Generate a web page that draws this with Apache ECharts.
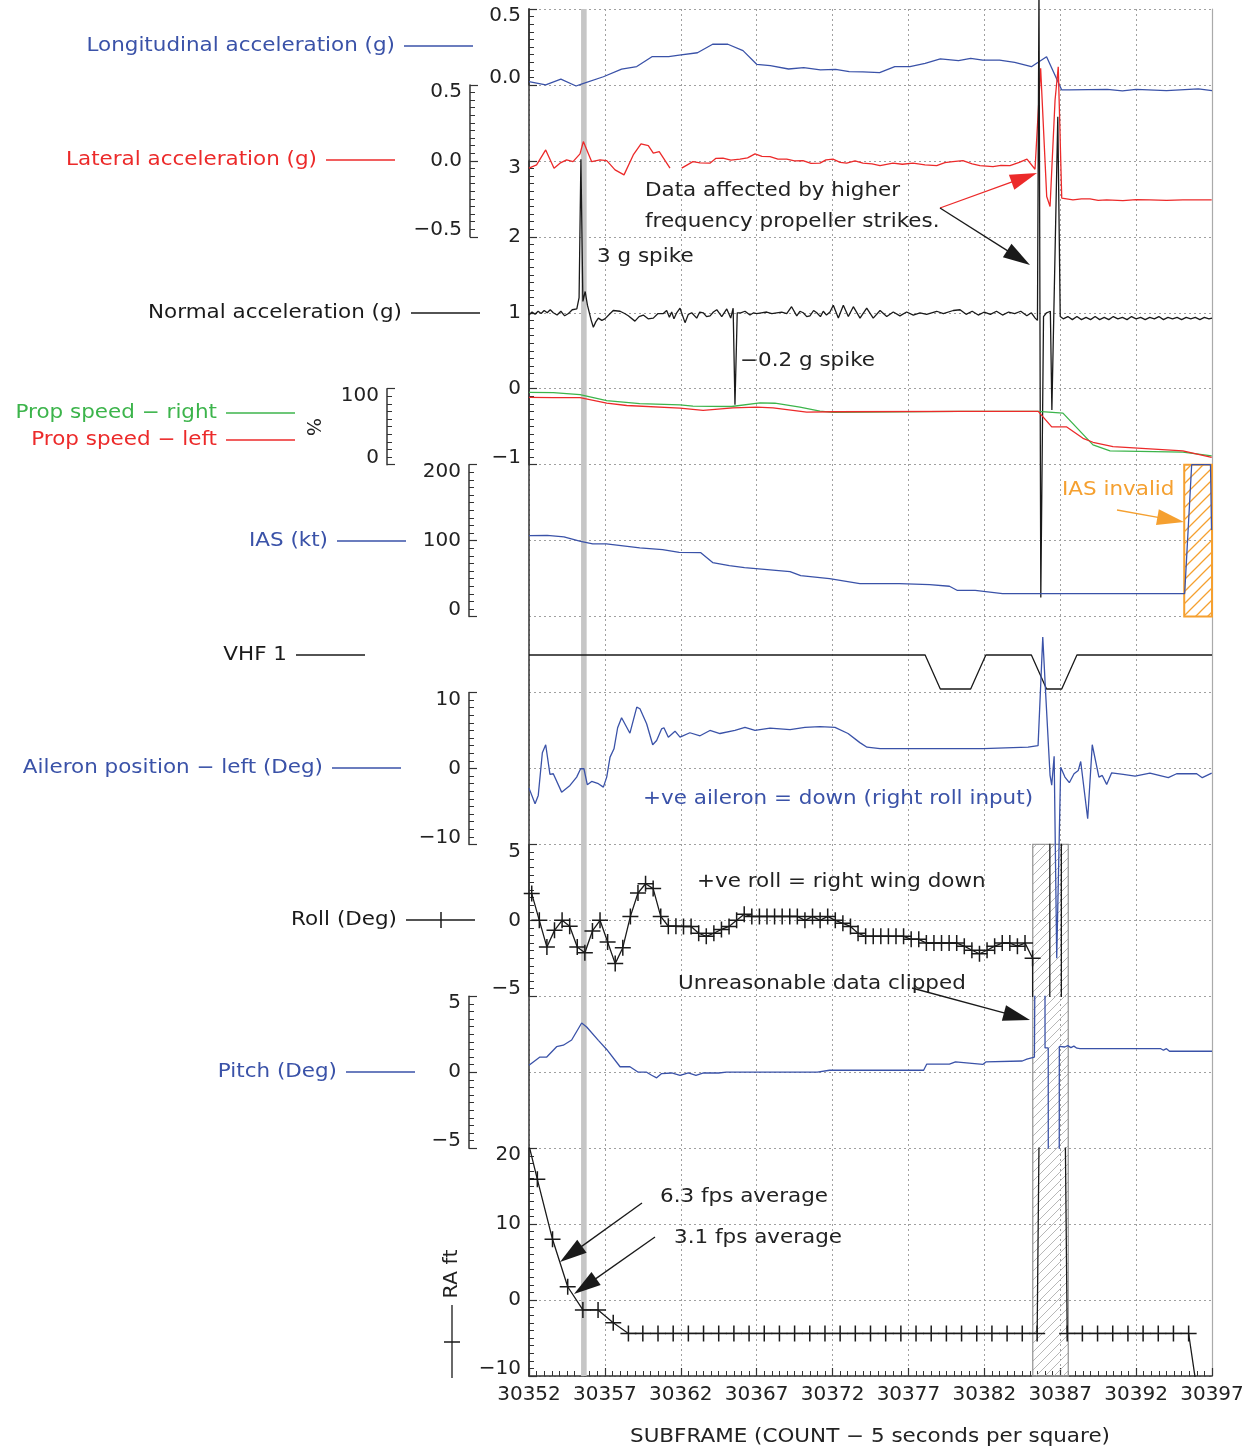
<!DOCTYPE html>
<html><head><meta charset="utf-8">
<script src="https://cdn.jsdelivr.net/npm/echarts@6/dist/echarts.min.js"></script>
<style>html,body{margin:0;padding:0;background:#fff}#c{width:1253px;height:1449px}</style>
</head><body><div id="c"></div>
<script>
// ---------------- DATA ----------------
const xTickLabels = [30352,30357,30362,30367,30372,30377,30382,30387,30392,30397];
const longTicks = [0, 0.5];
const latTicks = [-0.5, 0, 0.5];
const normTicks = [-1, 0, 1, 2, 3];
const propTicks = [0, 100];
const iasTicks = [0, 100, 200];
const ailTicks = [-10, 0, 10];
const rollTicks = [-5, 0, 5];
const pitchTicks = [-5, 0, 5];
const raTicks = [-10, 0, 10, 20];

const longAcc = [[30352.0,0.022],[30353.1,0.0],[30354.1,0.038],[30355.1,-0.007],[30355.5,0.007],[30356.9,0.054],[30358.1,0.104],[30359.1,0.121],[30360.1,0.186],[30361.2,0.186],[30361.9,0.197],[30363.1,0.212],[30364.1,0.268],[30365.1,0.268],[30366.1,0.226],[30367.0,0.136],[30367.9,0.127],[30369.1,0.105],[30370.1,0.114],[30371.2,0.099],[30372.2,0.103],[30373.1,0.088],[30374.0,0.086],[30375.1,0.081],[30376.1,0.120],[30377.1,0.120],[30378.1,0.142],[30379.1,0.171],[30380.3,0.160],[30381.1,0.175],[30381.9,0.164],[30383.0,0.164],[30384.0,0.149],[30385.1,0.120],[30386.1,0.186],[30387.1,-0.033],[30387.6,-0.033],[30390.1,-0.029],[30391.1,-0.039],[30392.0,-0.029],[30394.0,-0.038],[30396.1,-0.026],[30397,-0.038]];

const latAcc = [[30352.0,-0.048],[30352.5,-0.026],[30353.1,0.072],[30353.65,-0.048],[30354.04,-0.015],[30354.48,0.007],[30354.9,-0.005],[30355.36,0.046],[30355.58,0.127],[30356.13,-0.005],[30356.68,0.007],[30357.12,0.002],[30357.67,-0.059],[30358.26,-0.092],[30358.87,0.039],[30359.38,0.112],[30359.86,0.101],[30360.19,0.051],[30360.58,0.061],[30361.29,-0.048],null,[30362.06,-0.048],[30362.8,-0.005],[30363.27,-0.013],[30363.92,-0.015],[30364.3,0.016],[30364.78,0.018],[30365.3,0.005],[30365.9,0.011],[30366.4,0.02],[30366.89,0.046],[30367.35,0.03],[30367.88,0.028],[30368.4,0.012],[30368.98,0.011],[30369.5,0.0],[30370.05,0.002],[30370.58,-0.016],[30371.17,-0.015],[30371.57,0.007],[30372.03,0.011],[30372.5,-0.01],[30372.93,-0.015],[30373.48,0.0],[30374.0,-0.015],[30374.6,-0.02],[30375.13,-0.031],[30375.98,-0.015],[30376.6,-0.022],[30377.3,-0.015],[30378.09,-0.026],[30378.86,-0.031],[30379.4,-0.012],[30379.93,-0.005],[30380.59,0.002],[30381.2,-0.02],[30381.71,-0.031],[30382.57,-0.038],[30383.1,-0.03],[30383.69,-0.031],[30384.3,-0.01],[30384.81,0.011],[30385.34,-0.055],[30385.71,0.61],[30386.11,-0.235],[30386.33,-0.30],[30386.66,0.401],[30386.87,0.62],[30387.1,-0.245],[30387.84,-0.257],[30388.4,-0.25],[30388.96,-0.25],[30389.5,-0.26],[30390.06,-0.257],[30391.13,-0.261],[30392.0,-0.255],[30392.91,-0.257],[30394.0,-0.26],[30395.08,-0.257],[30396.98,-0.257]];

const normalAcc = [[30352.0,0.97],[30352.2,1.01],[30352.4,0.98],[30352.6,1.02],[30352.8,0.99],[30353.0,1.03],[30353.2,1.0],[30353.4,1.04],[30353.6,1.0],[30353.85,0.97],[30354.1,1.02],[30354.35,0.96],[30354.6,0.99],[30354.85,1.04],[30355.15,1.05],[30355.3,1.2],[30355.42,3.02],[30355.55,1.15],[30355.7,1.28],[30355.85,1.1],[30355.97,1.08],[30356.1,0.9],[30356.24,0.81],[30356.4,0.88],[30356.57,0.93],[30356.8,0.9],[30357.0,0.92],[30357.3,0.98],[30357.55,1.03],[30358.0,1.02],[30358.3,0.99],[30358.54,0.96],[30358.98,0.89],[30359.25,0.95],[30359.53,0.97],[30359.85,0.92],[30360.19,0.93],[30360.5,0.99],[30360.85,0.99],[30361.07,1.03],[30361.25,0.94],[30361.4,1.01],[30361.55,0.92],[30361.73,1.0],[30361.95,1.06],[30362.28,0.87],[30362.5,0.98],[30362.72,1.0],[30363.05,0.93],[30363.25,1.01],[30363.48,1.0],[30363.7,0.95],[30363.93,0.96],[30364.15,1.01],[30364.37,1.04],[30364.7,0.95],[30365.03,1.05],[30365.29,0.93],[30365.45,1.06],[30365.57,-0.21],[30365.72,1.0],[30365.95,1.0],[30366.23,1.02],[30366.56,0.97],[30366.8,1.0],[30367.0,0.99],[30367.3,1.0],[30367.66,1.01],[30368.0,0.99],[30368.32,1.0],[30368.65,1.01],[30368.98,0.99],[30369.3,1.08],[30369.64,0.96],[30369.85,1.02],[30370.07,1.0],[30370.3,0.95],[30370.51,0.96],[30370.75,1.03],[30370.96,1.0],[30371.2,0.95],[30371.39,1.02],[30371.6,0.97],[30371.83,1.01],[30372.05,1.1],[30372.38,0.93],[30372.71,1.1],[30373.04,0.95],[30373.37,1.08],[30373.81,0.93],[30374.25,1.06],[30374.68,0.93],[30375.13,1.03],[30375.57,0.95],[30376.0,1.01],[30376.44,0.96],[30376.88,1.01],[30377.32,0.97],[30377.76,1.0],[30378.2,0.98],[30378.86,1.02],[30379.3,0.99],[30379.95,1.03],[30380.4,1.04],[30380.8,0.98],[30381.2,1.02],[30381.6,0.97],[30382.0,1.01],[30382.4,0.98],[30382.8,1.02],[30383.2,0.97],[30383.6,1.01],[30384.0,0.99],[30384.4,1.02],[30384.8,0.96],[30385.1,1.0],[30385.35,0.93],[30385.5,0.9],[30385.6,5.3],[30385.72,-2.75],[30385.9,0.95],[30386.1,1.0],[30386.35,1.02],[30386.45,-0.28],[30386.84,3.58],[30387.0,0.95],[30387.2,0.92],[30387.5,0.95],[30387.8,0.91],[30388.1,0.95],[30388.4,0.91],[30388.7,0.94],[30389.0,0.91],[30389.3,0.95],[30389.6,0.91],[30389.9,0.94],[30390.2,0.91],[30390.5,0.95],[30390.8,0.92],[30391.1,0.94],[30391.4,0.91],[30391.7,0.95],[30392.0,0.92],[30392.3,0.94],[30392.6,0.91],[30392.9,0.94],[30393.2,0.92],[30393.5,0.95],[30393.8,0.91],[30394.1,0.94],[30394.4,0.92],[30394.7,0.94],[30395.0,0.91],[30395.3,0.94],[30395.6,0.92],[30395.9,0.94],[30396.2,0.91],[30396.5,0.94],[30396.8,0.92],[30397,0.93]];

const propRight = [[30352.0,95.2],[30353.6,94.8],[30355.36,92.2],[30357.12,84.4],[30359.3,80.5],[30361.95,78.8],[30362.8,77.0],[30365.35,76.6],[30367.22,81.4],[30368.2,80.9],[30369.85,75.7],[30371.17,70.5],[30372.03,68.8],[30380.4,70.1],[30385.55,70.1],[30387.18,67.9],[30389.16,26.0],[30390.28,18.2],[30395.08,16.5],[30396.98,11.7]];
const propLeft = [[30352.0,88.7],[30353.6,88.3],[30355.36,88.3],[30357.12,80.9],[30358.44,77.9],[30361.95,74.4],[30363.47,71.4],[30365.44,74.9],[30367.0,75.7],[30368.08,74.9],[30370.3,69.2],[30372.03,69.7],[30380.4,70.1],[30385.55,70.1],[30386.44,49.7],[30387.43,49.7],[30388.5,34.7],[30389.16,29.5],[30390.48,23.8],[30395.08,18.2],[30396.98,9.5]];

const ias = [[30352.0,106.6],[30353.2,107],[30354.3,104.9],[30355.4,99.1],[30356.2,95.6],[30357.1,95.6],[30359.3,90.4],[30360.8,88.2],[30361.9,84.6],[30363.3,84.2],[30364.1,71.1],[30365.2,67],[30366.2,64.5],[30369.2,59.2],[30369.9,53.9],[30371.8,50],[30373.8,43.4],[30376.4,43.4],[30378.4,42.1],[30379.7,39.9],[30380.2,34.6],[30381.4,34.6],[30383.2,30.3],[30395.2,30.3],[30395.66,200],[30396.9,200],[30396.97,114]];

const vhf1 = [[30352,1],[30378.1,1],[30379.1,0],[30381.1,0],[30382.1,1],[30385.1,1],[30386.1,0],[30387.1,0],[30388.1,1],[30397,1]];

const aileron = [[30352.0,-2.59],[30352.11,-2.67],[30352.4,-4.64],[30352.61,-3.55],[30352.88,2.07],[30353.1,3.12],[30353.38,-0.79],[30353.6,-0.7],[30354.15,-3.12],[30354.7,-2.24],[30355.14,-1.14],[30355.4,-0.04],[30355.62,-0.04],[30355.84,-2.14],[30356.13,-1.71],[30356.57,-2.01],[30356.9,-2.46],[30357.12,-1.14],[30357.34,1.49],[30357.6,2.59],[30357.84,5.36],[30358.1,6.67],[30358.65,4.64],[30359.1,8.07],[30359.31,7.86],[30359.75,5.88],[30360.15,3.12],[30360.41,3.68],[30360.74,5.22],[30360.89,5.36],[30361.18,4.12],[30361.62,4.91],[30361.95,4.12],[30362.6,4.7],[30363.27,4.3],[30363.92,5.0],[30364.58,4.6],[30365.57,5.0],[30366.23,5.4],[30366.89,5.0],[30367.88,5.3],[30369.2,5.1],[30370.18,5.4],[30371.17,5.5],[30372.16,5.4],[30373.02,4.6],[30373.8,3.4],[30374.27,2.8],[30375.13,2.6],[30379.74,2.6],[30381.9,2.6],[30384.88,2.8],[30385.54,3.0],[30385.85,17.3],[30386.04,9.9],[30386.33,-0.9],[30386.44,-2.2],[30386.6,1.6],[30386.77,-25],[30387.03,0.17],[30387.31,-1.14],[30387.6,-1.88],[30387.91,-0.7],[30388.19,-0.26],[30388.35,0.92],[30388.81,-6.62],[30389.11,3.12],[30389.55,-1.14],[30389.77,-0.92],[30390.06,-2.1],[30390.39,-0.57],[30391.15,-0.79],[30391.93,-1.01],[30392.91,-0.62],[30394.12,-1.22],[30394.67,-0.7],[30395.99,-0.7],[30396.36,-1.22],[30396.98,-0.62]];

const roll = [[30352.18,1.76],[30352.68,0],[30353.18,-1.76],[30353.68,-0.66],[30354.18,0],[30354.68,-0.39],[30355.18,-1.76],[30355.68,-2.13],[30356.18,-0.7],[30356.68,0],[30357.18,-1.43],[30357.68,-2.85],[30358.18,-1.8],[30358.68,0.26],[30359.18,1.8],[30359.68,2.41],[30360.18,2.09],[30360.68,0.26],[30361.18,-0.39],[30361.68,-0.39],[30362.18,-0.4],[30362.68,-0.4],[30363.18,-0.85],[30363.68,-1.05],[30364.18,-0.85],[30364.68,-0.6],[30365.18,-0.4],[30365.68,0],[30366.18,0.4],[30366.68,0.26],[30367.18,0.26],[30367.68,0.26],[30368.18,0.26],[30368.68,0.26],[30369.18,0.26],[30369.68,0.26],[30370.18,0],[30370.68,0.26],[30371.18,0],[30371.68,0.26],[30372.18,0],[30372.68,-0.2],[30373.18,-0.4],[30373.68,-0.85],[30374.18,-1.05],[30374.68,-1.05],[30375.18,-1.05],[30375.68,-1.05],[30376.18,-1.05],[30376.68,-1.05],[30377.18,-1.25],[30377.68,-1.25],[30378.18,-1.5],[30378.68,-1.5],[30379.18,-1.5],[30379.68,-1.5],[30380.18,-1.5],[30380.68,-1.7],[30381.18,-1.97],[30381.68,-2.2],[30382.18,-1.97],[30382.68,-1.7],[30383.18,-1.5],[30383.68,-1.5],[30384.18,-1.7],[30384.68,-1.5],[30385.18,-2.5],[30385.2,-40],[30386.3,-40],[30386.33,40],[30387.06,40],[30387.09,-40]];

const pitch = [[30352.0,0.46],[30352.72,1.0],[30353.17,1.0],[30353.82,1.68],[30354.26,1.78],[30354.81,2.12],[30355.47,3.24],[30355.8,2.98],[30356.57,2.1],[30357.12,1.5],[30358.0,0.36],[30358.65,0.36],[30359.2,0],[30359.75,0],[30360.08,-0.2],[30360.41,-0.37],[30360.74,-0.09],[30361.4,-0.05],[30361.95,-0.2],[30362.5,-0.05],[30363.0,-0.2],[30363.5,-0.05],[30364.5,-0.05],[30365.0,0],[30371.0,0],[30371.8,0.13],[30378.0,0.13],[30378.2,0.53],[30379.7,0.53],[30380.1,0.68],[30381.9,0.51],[30382.1,0.68],[30384.5,0.74],[30384.8,0.86],[30385.3,1.0],[30385.52,40],[30385.97,40],[30386.0,1.6],[30386.21,1.6],[30386.23,-40],[30386.92,-40],[30386.94,1.7],[30387.3,1.66],[30387.5,1.75],[30387.7,1.62],[30387.9,1.72],[30388.1,1.58],[30388.3,1.56],[30393.6,1.56],[30393.8,1.45],[30394.0,1.55],[30394.2,1.38],[30397,1.38]];

const ra = [[30351.55,24.0],[30352.55,15.9],[30353.55,8.0],[30354.55,1.75],[30355.55,-1.3],[30356.55,-1.3],[30357.55,-3.0],[30358.55,-4.4],[30359.5,-4.4],[30360.5,-4.4],[30361.5,-4.4],[30362.5,-4.4],[30363.5,-4.4],[30364.5,-4.4],[30365.5,-4.4],[30366.5,-4.4],[30367.5,-4.4],[30368.5,-4.4],[30369.5,-4.4],[30370.5,-4.4],[30371.5,-4.4],[30372.5,-4.4],[30373.5,-4.4],[30374.5,-4.4],[30375.5,-4.4],[30376.5,-4.4],[30377.5,-4.4],[30378.5,-4.4],[30379.5,-4.4],[30380.5,-4.4],[30381.5,-4.4],[30382.5,-4.4],[30383.5,-4.4],[30384.5,-4.4],[30385.48,-4.4],[30386.47,200],[30387.46,-4.4],[30388.46,-4.4],[30389.46,-4.4],[30390.46,-4.4],[30391.46,-4.4],[30392.46,-4.4],[30393.46,-4.4],[30394.46,-4.4],[30395.46,-4.4],[30396.46,-18]];

// highlighted spans (subframe ranges)
const impactBar = [30355.43, 30355.80];
const clippedSpan = [30385.19, 30387.53];
const iasInvalidSpan = [30395.17, 30397];

// ---------------- LAYOUT ----------------
const L = 529, R = 1212, T = 9, B = 1376, W = 1253, H = 1449;
const SQ = (B - T) / 18;
const gy = k => T + SQ * k;
const FF = 'DejaVu Sans', FS = 20, TFS = 19, SX = 1.13;
const BLUE = '#3a52a8', RED = '#ec2a2a', GREEN = '#3cb44b', ORANGE = '#f5a030', BLK = '#1a1a1a', AX = '#333', TX = '#222';
const XMIN = 30352, XMAX = 30397;

function grid(k0, k1) { return { left: L, right: W - R, top: gy(k0), height: gy(k1) - gy(k0) }; }
const grids = [grid(0,18), grid(0,1), grid(1,3), grid(2,6), grid(5,6), grid(6,8),
  { left: L, right: W - R, top: 655, height: 34 }, grid(9,11), grid(11,13), grid(13,15), grid(15,18)];

const fmt1 = v => (v < 0 ? '\u2212' : '') + Math.abs(v).toFixed(1);
const fmt0 = v => (v < 0 ? '\u2212' : '') + Math.abs(v);

function yax(gi, ticks, offset, fmt, extra) {
  const mn = Math.min(...ticks), mx = Math.max(...ticks);
  return Object.assign({
    type: 'value', gridIndex: gi, position: 'left', offset: offset, min: mn, max: mx, interval: ticks[1] - ticks[0],
    axisLine: { show: true, onZero: false, lineStyle: { color: AX, width: 1.5 } },
    axisTick: { show: true, inside: true, length: 8, lineStyle: { color: AX, width: 1.2 } },
    minorTick: { show: true, splitNumber: 10, length: 5, lineStyle: { color: AX, width: 1 } },
    axisLabel: { show: true, margin: 8, fontSize: FS, fontFamily: FF, color: TX, formatter: fmt,
      lineHeight: 14, verticalAlignMaxLabel: 'top', verticalAlignMinLabel: 'bottom' },
    splitLine: { show: false }, minorSplitLine: { show: false }
  }, extra || {});
}

const xAxes = grids.map((g, i) => i === 0 ? {
  type: 'value', gridIndex: 0, min: XMIN, max: XMAX, interval: xTickLabels[1] - xTickLabels[0],
  axisLine: { show: true, onZero: false, lineStyle: { color: AX, width: 1.5 } },
  axisTick: { show: true, inside: true, length: 8, lineStyle: { color: AX, width: 1.2 } },
  minorTick: { show: true, splitNumber: 10, length: 5, lineStyle: { color: AX, width: 1 } },
  axisLabel: { margin: 9, fontSize: FS, fontFamily: FF, color: TX, formatter: v => String(v) },
  splitLine: { show: true, lineStyle: { color: '#a0a0a0', type: [2, 3], width: 1 } }
} : { type: 'value', gridIndex: i, min: XMIN, max: XMAX, show: false });

const yAxes = [
  { type: 'value', gridIndex: 0, min: 0, max: 18, interval: 1, position: 'left',
    axisLine: { show: true, lineStyle: { color: AX, width: 1.5 } }, axisTick: { show: false }, axisLabel: { show: false },
    splitLine: { show: true, lineStyle: { color: '#a0a0a0', type: [2, 3], width: 1 } } },
  { type: 'value', gridIndex: 0, min: 0, max: 18, position: 'right',
    axisLine: { show: true, lineStyle: { color: '#aaa', width: 1.2 } }, axisTick: { show: false }, axisLabel: { show: false }, splitLine: { show: false } },
  yax(1, longTicks, 0, fmt1),
  yax(2, latTicks, 59, fmt1),
  yax(3, normTicks, 0, fmt0),
  yax(4, propTicks, 142, fmt0),
  yax(5, iasTicks, 60, fmt0),
  { type: 'value', gridIndex: 6, min: 0, max: 1, show: false },
  yax(7, ailTicks, 60, fmt0),
  yax(8, rollTicks, 0, fmt0),
  yax(9, pitchTicks, 60, fmt0),
  yax(10, raTicks, 0, fmt0)
];

function hatch(color, size, lw) {
  const c = document.createElement('canvas'); c.width = c.height = size;
  const g = c.getContext('2d'); g.strokeStyle = color; g.lineWidth = lw; g.beginPath();
  g.moveTo(0, size); g.lineTo(size, 0);
  g.moveTo(-size / 2, size / 2); g.lineTo(size / 2, -size / 2);
  g.moveTo(size / 2, size * 1.5); g.lineTo(size * 1.5, size / 2);
  g.stroke(); return c;
}

const PLUS = 'path://M8,0L8,16M0,8L16,8';
function ln(name, gi, yi, data, color, extra) {
  return Object.assign({ name, type: 'line', xAxisIndex: gi, yAxisIndex: yi, data, showSymbol: false, symbol: 'none',
    clip: false, animation: false, lineStyle: { color, width: 1.3 }, itemStyle: { color }, silent: true, z: 3 }, extra || {});
}

const series = [
  { type: 'line', xAxisIndex: 0, yAxisIndex: 0, data: [], silent: true, z: 1,
    markArea: { silent: true, data: [
      [{ coord: [impactBar[0], 0], itemStyle: { color: '#c6c6c6' } }, { coord: [impactBar[1], 18] }],
      [{ coord: [clippedSpan[0], 0], itemStyle: { color: { image: hatch('#b8b8b8', 9, 1), repeat: 'repeat' }, borderColor: '#999', borderWidth: 1.3 } }, { coord: [clippedSpan[1], 7] }],
      [{ coord: [iasInvalidSpan[0], 10], itemStyle: { color: { image: hatch(ORANGE, 12, 1.3), repeat: 'repeat' }, borderColor: ORANGE, borderWidth: 2 } }, { coord: [iasInvalidSpan[1], 12] }]
    ] } },
  ln('Longitudinal acceleration (g)', 1, 2, longAcc, BLUE),
  ln('Lateral acceleration (g)', 2, 3, latAcc, RED, { connectNulls: false }),
  ln('Normal acceleration (g)', 3, 4, normalAcc, BLK),
  ln('Prop speed - right', 4, 5, propRight, GREEN),
  ln('Prop speed - left', 4, 5, propLeft, RED),
  ln('IAS (kt)', 5, 6, ias, BLUE),
  ln('VHF 1', 6, 7, vhf1, BLK),
  ln('Aileron position - left (Deg)', 7, 8, aileron, BLUE),
  ln('Roll (Deg)', 8, 9, roll.map(p => Math.abs(p[1]) > 5 ? { value: p, symbol: 'none' } : p), BLK,
     { clip: true, showSymbol: true, showAllSymbol: true, symbol: PLUS, symbolSize: 16,
       itemStyle: { color: BLK, borderColor: BLK, borderWidth: 1.5 } }),
  ln('Pitch (Deg)', 9, 10, pitch, BLUE, { clip: true }),
  ln('RA ft', 10, 11, ra, BLK, { clip: true, showSymbol: true, showAllSymbol: true, symbol: PLUS, symbolSize: 16,
       itemStyle: { color: BLK, borderColor: BLK, borderWidth: 1.5 } })
];

// ---------------- ANNOTATIONS ----------------
const font = TFS + 'px "' + FF + '"';
function txt(text, x, y, color, align, rot, sx) {
  return { type: 'text', x, y, rotation: rot || 0, scaleX: sx || SX, silent: true, z: 10,
    style: { text, fill: color, font, align: align || 'left', textAlign: align || 'left', verticalAlign: 'middle', textVerticalAlign: 'middle' } };
}
function seg(x1, y1, x2, y2, color, w) {
  return { type: 'line', silent: true, z: 10, shape: { x1, y1, x2, y2 }, style: { stroke: color, lineWidth: w || 1.3 } };
}
function arrow(x1, y1, x2, y2, color) {
  const dx = x2 - x1, dy = y2 - y1, len = Math.hypot(dx, dy), ux = dx / len, uy = dy / len;
  const hl = 27, hw = 8, bx = x2 - ux * hl, by = y2 - uy * hl;
  return [seg(x1, y1, bx + ux * 2, by + uy * 2, color, 1.3),
    { type: 'polygon', silent: true, z: 10, shape: { points: [[x2, y2], [bx - uy * hw, by + ux * hw], [bx + uy * hw, by - ux * hw]] }, style: { fill: color } }];
}
function legendItem(text, xr, y, color, plus) {
  const out = [txt(text, xr, y, color, 'right'), seg(xr + 9, y, xr + 78, y, color, 1.3)];
  if (plus) { out.push(seg(xr + 44, y - 8, xr + 44, y + 8, color, 1.5)); }
  return out;
}

const graphics = [].concat(
  legendItem('Longitudinal acceleration (g)', 395, 46, BLUE),
  legendItem('Lateral acceleration (g)', 317, 160, RED),
  legendItem('Normal acceleration (g)', 402, 313, BLK),
  legendItem('Prop speed \u2212 right', 217, 413, GREEN),
  legendItem('Prop speed \u2212 left', 217, 440, RED),
  legendItem('IAS (kt)', 328, 541, BLUE),
  legendItem('VHF 1', 287, 655, BLK),
  legendItem('Aileron position \u2212 left (Deg)', 323, 768, BLUE),
  legendItem('Roll (Deg)', 397, 920, BLK, true),
  legendItem('Pitch (Deg)', 337, 1072, BLUE),
  [txt('%', 312, 427, TX, 'center', -Math.PI / 2, 1)],
  [txt('RA ft', 452, 1274, TX, 'center', Math.PI / 2, 1.08), seg(452, 1305, 452, 1378, BLK, 1.3), seg(444, 1342, 460, 1342, BLK, 1.5)],
  [txt('SUBFRAME (COUNT \u2212 5 seconds per square)', 870, 1437, TX, 'center')],
  [txt('Data affected by higher', 645, 191, TX), txt('frequency propeller strikes.', 645, 222, TX)],
  arrow(940, 208, 1037, 173, RED),
  arrow(940, 208, 1030, 265, BLK),
  [txt('3 g spike', 597, 257, TX), txt('\u22120.2 g spike', 740, 361, TX)],
  [txt('IAS invalid', 1062, 490, ORANGE)],
  arrow(1117, 510, 1184, 522, ORANGE),
  [txt('+ve aileron = down (right roll input)', 643, 799, BLUE)],
  [txt('+ve roll = right wing down', 697, 882, TX)],
  [txt('Unreasonable data clipped', 678, 984, TX)],
  arrow(912, 988, 1030, 1020, BLK),
  [txt('6.3 fps average', 660, 1197, TX), txt('3.1 fps average', 674, 1238, TX)],
  arrow(642, 1203, 560, 1262, BLK),
  arrow(655, 1237, 574, 1294, BLK)
);

const chart = echarts.init(document.getElementById('c'), null, { renderer: 'canvas' });
chart.setOption({
  animation: false,
  backgroundColor: '#fff',
  grid: grids,
  xAxis: xAxes,
  yAxis: yAxes,
  series: series,
  graphic: { elements: graphics }
});
</script>
</body></html>
